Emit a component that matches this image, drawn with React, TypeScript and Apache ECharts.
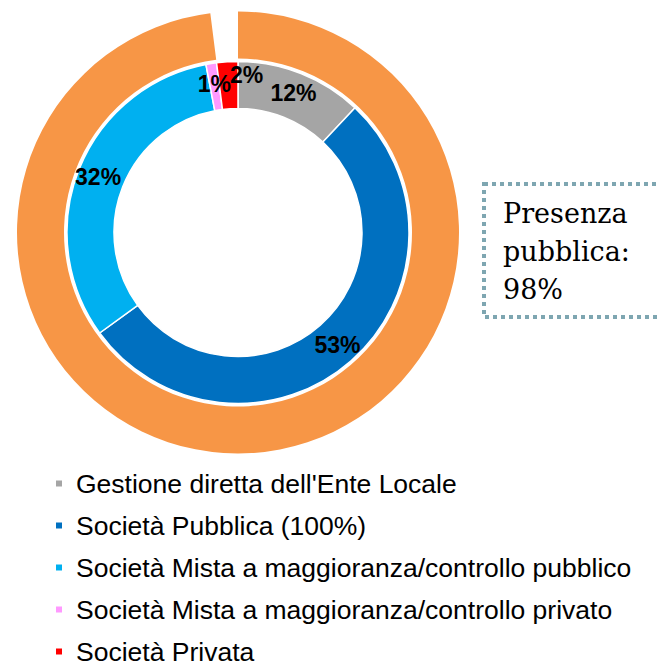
import React, { useEffect, useRef } from "react";
import * as echarts from "echarts";

const categories = [
  "Gestione diretta dell'Ente Locale",
  "Società Pubblica (100%)",
  "Società Mista a maggioranza/controllo pubblico",
  "Società Mista a maggioranza/controllo privato",
  "Società Privata",
];
const innerValues = [12, 53, 32, 1, 2];
const innerColors = ["#a5a5a5", "#0070c0", "#00b0f0", "#ff99ff", "#ff0000"];
const outerNames = ["Presenza pubblica", "Presenza privata"];
const outerValues = [98, 2];
const boxLines = ["Presenza", "pubblica:", "98%"];

export default function App() {
  const ref = useRef<HTMLDivElement>(null);
  useEffect(() => {
    document.body.style.margin = "0";
    const chart = echarts.init(ref.current!, null, { renderer: "svg" });
    const labelOverrides: Record<number, any> = {
      3: { padding: [0, 0, 10, 0] },
      4: { padding: [0, 0, 0, 36], formatter: "{c}%\n ", lineHeight: 14 },
    };
    chart.setOption({
      animation: false,
      backgroundColor: "#ffffff",
      legend: {
        orient: "vertical",
        left: 49,
        top: 465,
        height: 200,
        itemWidth: 8,
        itemHeight: 8,
        itemGap: 15,
        icon: "rect",
        data: categories,
        textStyle: {
          fontFamily: "Liberation Sans, Arial, sans-serif",
          fontSize: 26.5,
          lineHeight: 26,
          color: "#000",
          padding: [0, 0, 0, 8],
        },
      },
      graphic: [
        {
          type: "rect",
          shape: { x: 484, y: 184, width: 300, height: 133 },
          style: {
            fill: "none",
            stroke: "#7ea6b1",
            lineWidth: 4,
            lineDash: [4, 4],
          },
          silent: true,
        },
        {
          type: "text",
          x: 503,
          y: 194,
          style: {
            text: boxLines.join("\n"),
            fontFamily: "DejaVu Serif, serif",
            fontSize: 27,
            lineHeight: 38,
            fill: "#000",
            verticalAlign: "top",
          },
          silent: true,
        },
      ],
      series: [
        {
          type: "pie",
          name: "outer",
          center: [238, 232.5],
          radius: [174, 221],
          startAngle: 90,
          clockwise: true,
          silent: true,
          label: { show: false },
          labelLine: { show: false },
          data: outerNames.map((n, i) => ({
            name: n,
            value: outerValues[i],
            itemStyle: { color: i === 0 ? "#f79646" : "rgba(0,0,0,0)" },
          })),
        },
        {
          type: "pie",
          name: "inner",
          center: [238, 232.5],
          radius: [124, 171],
          startAngle: 90,
          clockwise: true,
          silent: true,
          minShowLabelAngle: 0,
          labelLayout: { hideOverlap: false },
          itemStyle: { borderColor: "#ffffff", borderWidth: 1.5 },
          label: {
            show: true,
            position: "inside",
            formatter: "{c}%",
            fontFamily: "Liberation Sans, Arial, sans-serif",
            fontSize: 23,
            fontWeight: "bold",
            color: "#000",
          },
          labelLine: { show: false },
          data: categories.map((n, i) => ({
            name: n,
            value: innerValues[i],
            itemStyle: { color: innerColors[i] },
            label: labelOverrides[i],
          })),
        },
      ],
    });
    return () => chart.dispose();
  }, []);
  return (
    <div
      ref={ref}
      style={{ position: "absolute", left: 0, top: 0, width: 658, height: 665 }}
    />
  );
}
